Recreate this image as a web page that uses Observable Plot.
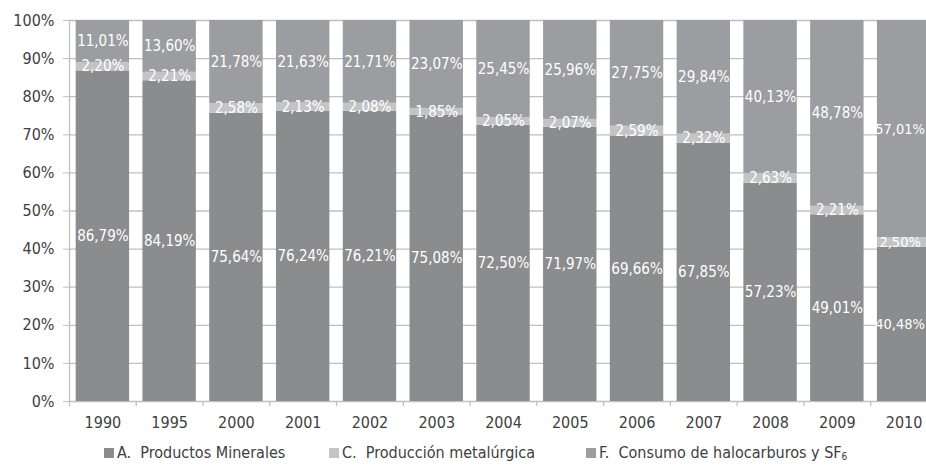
<!DOCTYPE html>
<html>
<head>
<meta charset="utf-8">
<script src="https://cdn.jsdelivr.net/npm/d3@7"></script>
<script src="https://cdn.jsdelivr.net/npm/@observablehq/plot@0.6"></script>
<style>
  html, body { margin: 0; padding: 0; background: #fff; overflow: hidden; width: 926px; height: 466px; }
  #chart { position: relative; width: 926px; }
  #chart svg { display: block; max-width: none; }
  .legend { position: relative; height: 26px; font-family: "DejaVu Sans Condensed", "DejaVu Sans", sans-serif; font-size: 16px; color: #404040; }
  .legend .item { position: absolute; top: 3px; display: flex; align-items: center; white-space: pre; }
  .legend .sw { width: 10px; height: 10px; margin-right: 3px; }
</style>
</head>
<body>
<div id="chart"></div>
<script>
const years = ["1990","1995","2000","2001","2002","2003","2004","2005","2006","2007","2008","2009","2010"];
const seriesNames = ["A.  Productos Minerales", "C.  Producción metalúrgica", "F.  Consumo de halocarburos y SF₆"];
const productosMinerales = [86.79, 84.19, 75.64, 76.24, 76.21, 75.08, 72.50, 71.97, 69.66, 67.85, 57.23, 49.01, 40.48];
const produccionMetalurgica = [2.20, 2.21, 2.58, 2.13, 2.08, 1.85, 2.05, 2.07, 2.59, 2.32, 2.63, 2.21, 2.50];
const halocarburos = [11.01, 13.60, 21.78, 21.63, 21.71, 23.07, 25.45, 25.96, 27.75, 29.84, 40.13, 48.78, 57.01];
const yTicks = [0, 10, 20, 30, 40, 50, 60, 70, 80, 90, 100];
const colors = ["#8b8c8e", "#c3c4c6", "#9b9da0"];

const seriesValues = [productosMinerales, produccionMetalurgica, halocarburos];
const table = [];
years.forEach((yr, i) => {
  seriesValues.forEach((vals, s) => {
    table.push({year: yr, series: seriesNames[s], value: vals[i]});
  });
});

const W = 926, H = 440;
const xLeft = 69, xRight = 937;
const step = (xRight - xLeft) / years.length;
const fmt = v => v.toFixed(2).replace(".", ",") + "%";
const font = "'DejaVu Sans Condensed', 'DejaVu Sans', sans-serif";
const lastYear = years[years.length - 1];
const mainRows = table.filter(d => d.year !== lastYear);
const lastRows = table.filter(d => d.year === lastYear);

const plot = Plot.plot({
  width: W,
  height: H,
  marginTop: 20,
  marginBottom: 39,
  marginLeft: xLeft,
  marginRight: W - xRight,
  style: {fontFamily: font, fontSize: "16px", color: "#404040", background: "#fff"},
  x: {domain: years, paddingInner: 0.2, paddingOuter: 0.1, round: false, label: null},
  y: {domain: [0, 100], label: null},
  color: {domain: seriesNames, range: colors},
  marks: [
    Plot.ruleY(yTicks, {stroke: "#c0c0c0", strokeWidth: 1.3}),
    Plot.ruleX([years[0]], {x: d => d, dx: -step / 2, y1: 0, y2: 100, stroke: "#c0c0c0", strokeWidth: 1.3}),
    Plot.ruleX(years, {x: d => d, dx: -step / 2, y1: 0, y2: -1.3, stroke: "#c0c0c0", strokeWidth: 1.3}),
    Plot.barY(table, Plot.stackY({x: "year", y: "value", z: "series", fill: "series", order: seriesNames})),
    Plot.text(mainRows, Plot.stackY({x: "year", y: "value", z: "series", order: seriesNames, text: d => fmt(d.value), fill: "white", fontSize: 15})),
    Plot.text(lastRows, Plot.stackY({x: "year", y: "value", z: "series", order: seriesNames, text: d => fmt(d.value), fill: "white", fontSize: 14.5, dx: -4})),
    Plot.axisY({ticks: yTicks, tickFormat: d => d + "%", tickSize: 6, tickPadding: 9, stroke: "#c0c0c0", fill: "#404040", fontSize: 16}),
    Plot.axisX({tickSize: 0, tickPadding: 15, fill: "#404040", fontSize: 16})
  ]
});

const chart = document.getElementById("chart");
chart.appendChild(plot);

const legend = document.createElement("div");
legend.className = "legend";
const legendX = [104, 329, 586];
seriesNames.forEach((name, i) => {
  const item = document.createElement("div");
  item.className = "item";
  item.style.left = legendX[i] + "px";
  const sw = document.createElement("span");
  sw.className = "sw";
  sw.style.background = colors[i];
  item.appendChild(sw);
  const t = document.createElement("span");
  if (name.endsWith("SF₆")) {
    t.innerHTML = name.replace("SF₆", "SF<sub style='font-size:10px;vertical-align:-2px'>6</sub>");
  } else {
    t.textContent = name;
  }
  item.appendChild(t);
  legend.appendChild(item);
});
chart.appendChild(legend);
</script>
</body>
</html>
